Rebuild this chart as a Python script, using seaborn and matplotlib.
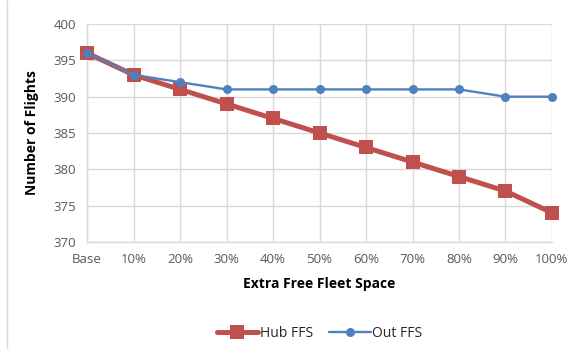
import matplotlib
matplotlib.use("Agg")
import matplotlib.pyplot as plt
import seaborn as sns
import pandas as pd

categories = ["Base", "10%", "20%", "30%", "40%", "50%", "60%", "70%", "80%", "90%", "100%"]
hub_ffs = [396, 393, 391, 389, 387, 385, 383, 381, 379, 377, 374]
out_ffs = [396, 393, 392, 391, 391, 391, 391, 391, 391, 390, 390]
series_names = ["Hub FFS", "Out FFS"]

sns.set_style("white")
plt.rcParams['font.family'] = ['Open Sans', 'DejaVu Sans']

df = pd.DataFrame({
    "x": list(range(len(categories))) * 2,
    "y": hub_ffs + out_ffs,
    "series": [series_names[0]] * len(categories) + [series_names[1]] * len(categories),
})

fig = plt.figure(figsize=(5.81, 3.49), dpi=100)
ax = fig.add_axes([0.150, 0.307, 0.800, 0.624])

palette = {"Hub FFS": "#C0504D", "Out FFS": "#4F81BD"}
sns.lineplot(data=df[df.series == "Hub FFS"], x="x", y="y", color=palette["Hub FFS"],
             lw=3.6, marker="s", markersize=9.5, markeredgewidth=0, ax=ax, label="Hub FFS",
             zorder=3, clip_on=False)
sns.lineplot(data=df[df.series == "Out FFS"], x="x", y="y", color=palette["Out FFS"],
             lw=1.7, marker="o", markersize=6.5, markeredgewidth=0, ax=ax, label="Out FFS",
             zorder=4, clip_on=False)

ax.set_xlim(0, len(categories) - 1)
ax.set_ylim(370, 400)
ax.set_yticks(range(370, 401, 5))
ax.set_xticks(range(len(categories)))
ax.set_xticklabels(categories)
ax.grid(True, color="#D9D9D9", lw=1)
ax.set_axisbelow(True)
for s in ["top", "right"]:
    ax.spines[s].set_visible(False)
for s in ["left", "bottom"]:
    ax.spines[s].set_color("#D9D9D9")
    ax.spines[s].set_linewidth(1)
ax.tick_params(axis="both", colors="#595959", labelsize=9.5, length=0, pad=8)
ax.set_xlabel("Extra Free Fleet Space", fontsize=10, fontweight="bold", color="black", labelpad=8)
ax.set_ylabel("Number of Flights", fontsize=10, fontweight="bold", color="black", labelpad=10)

ax.legend(loc="upper center", bbox_to_anchor=(0.5, -0.33), ncol=2, frameon=False,
          fontsize=10, handlelength=3, columnspacing=1.2, handletextpad=0.1)

fig.add_artist(plt.Line2D([0.012, 0.012], [0.0, 1.0], color="#D9D9D9", lw=1, transform=fig.transFigure))

fig.savefig("out.png", dpi=100)
